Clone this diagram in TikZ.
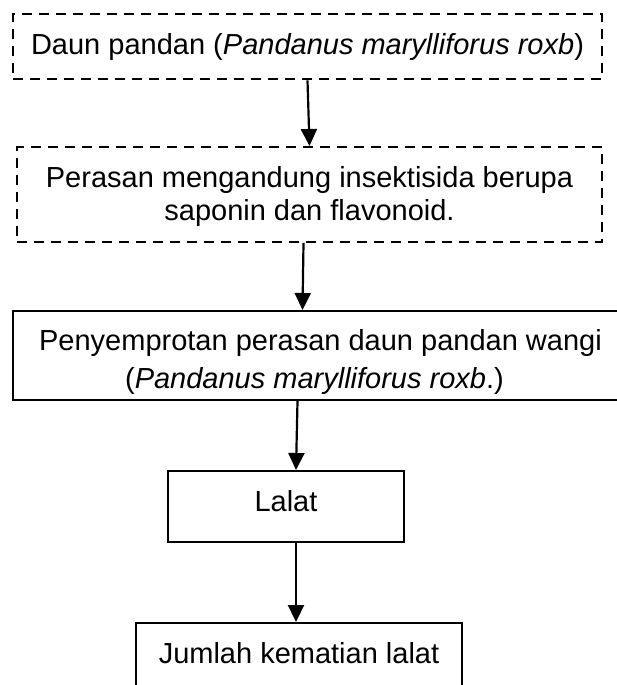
\documentclass[tikz,border=0pt]{standalone}
\usepackage{fontspec}
\setmainfont{Liberation Sans}
\usepackage{tikz}
\usetikzlibrary{arrows.meta}

\begin{document}
\begin{tikzpicture}[x=1pt, y=-1pt,
    font=\fontsize{29pt}{33pt}\selectfont,
    kotak/.style={draw, line width=2pt, rectangle, anchor=north, align=center,
        inner xsep=0pt, inner ysep=0pt, text height=40pt},
    putus/.style={kotak, line width=2.4pt, dash pattern=on 10pt off 7pt},
    panah/.style={line width=2.2pt, -{Triangle[width=16pt, length=17pt]}}]
    \useasboundingbox (0, 0) rectangle (616, 685);

    % Dashed boxes
    \node[putus, minimum width=589pt, text depth=25pt] (daun) at (307.5, 13)
        {Daun pandan (\textit{Pandanus marylliforus roxb})};
    \node[putus, minimum width=585pt, text height=73pt, text depth=21.5pt] (perasan)
        at (309.5, 146) {Perasan mengandung insektisida berupa\\saponin dan flavonoid.};

    % Solid boxes
    \node[kotak, minimum width=615pt, text height=77pt, text depth=12pt] (semprot)
        at (320.5, 310) {Penyemprotan perasan daun pandan wangi\\[5pt]
         (\textit{Pandanus marylliforus roxb}.)\hspace*{12pt}};
    \node[kotak, minimum width=236pt, text depth=31pt] (lalat) at (286, 470) {Lalat};
    \node[kotak, minimum width=326pt, text depth=60pt] (jumlah) at (299, 622)
        {Jumlah kematian lalat};

    % Arrows
    \draw[panah] (daun.south) -- (perasan.north);
    \draw[panah] ([xshift=-6pt]perasan.south) -- ([xshift=-18pt]semprot.north);
    \draw[panah] ([xshift=-23pt]semprot.south) -- ([xshift=10pt]lalat.north);
    \draw[panah] ([xshift=10pt]lalat.south) -- ([xshift=-3pt]jumlah.north);
\end{tikzpicture}
\end{document}
